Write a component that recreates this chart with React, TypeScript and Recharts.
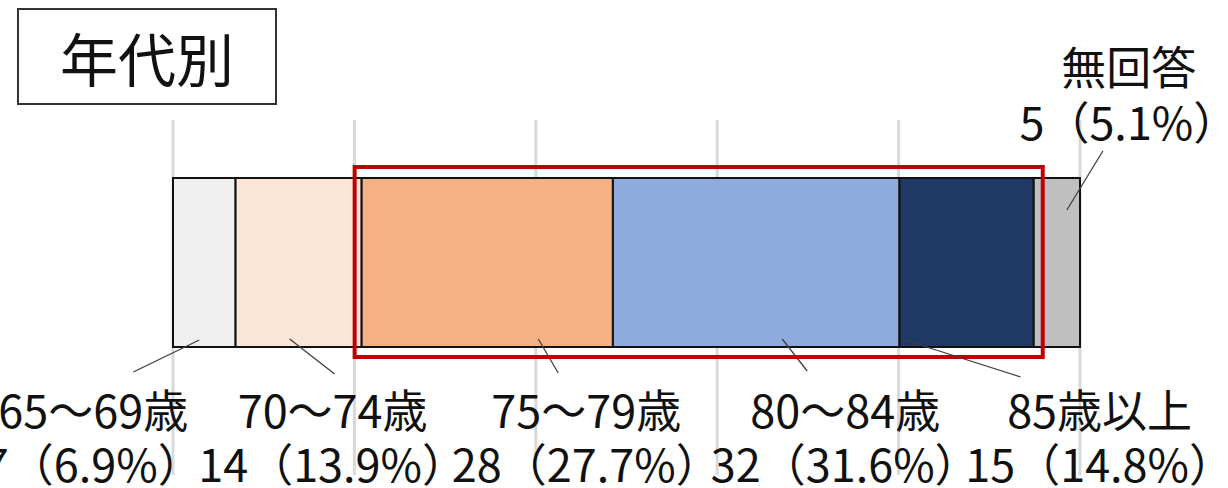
import { BarChart, Bar, XAxis, YAxis, CartesianGrid, LabelList } from 'recharts';

const categories = ['65～69歳', '70～74歳', '75～79歳', '80～84歳', '85歳以上', '無回答'];
const counts = [7, 14, 28, 32, 15, 5];
const percents = [6.9, 13.9, 27.7, 31.6, 14.8, 5.1];
const colors = ['#F0F0F0', '#FBE5D6', '#F4B183', '#8FAADC', '#203864', '#BFBFBF'];
const gridTicks = [0, 20, 40, 60, 80, 100];

const title = '年代別';
// segments 75～79歳 .. 85歳以上 are framed in red
const highlightFrom = 2;
const highlightTo = 4;

// label placement, relative to the segment centre and the bar edge
const labelLayout = [
  { edge: 'bottom', from: [-5, -7], to: [-71, 25], tx: -111, ty: [61, 115] },
  { edge: 'bottom', from: [-9, -8], to: [36, 27], tx: 34, ty: [61, 115] },
  { edge: 'bottom', from: [51, -8], to: [71, 26], tx: 99, ty: [61, 115] },
  { edge: 'bottom', from: [26, -8], to: [51, 24], tx: 89, ty: [61, 115] },
  { edge: 'bottom', from: [-65, -8], to: [54, 30], tx: 133, ty: [61, 115] },
  { edge: 'top', from: [10, 32], to: [46, -27], tx: 72, ty: [-113, -58] },
];

const keys = categories.map((_, i) => `s${i}`);
const row: Record<string, number | string> = { name: title };
keys.forEach((k, i) => (row[k] = percents[i]));
const data = [row];

const cumStart = (i: number) => percents.slice(0, i).reduce((a, b) => a + b, 0);

const FONT = '"Noto Sans CJK JP", "Noto Sans", sans-serif';

function makeLabel(i: number) {
  return (props: any) => {
    const vb = props.viewBox ?? props;
    const x = Number(vb.x);
    const y = Number(vb.y);
    const w = Number(vb.width);
    const h = Number(vb.height);
    if (Number.isNaN(x)) return null;
    const L = labelLayout[i];
    const cx = x + w / 2;
    const ey = L.edge === 'bottom' ? y + h : y;

    let frame = null;
    if (i === highlightTo) {
      // width of one percent, taken from this bar's own geometry
      const unit = w / percents[i];
      const left = x - (cumStart(highlightTo) - cumStart(highlightFrom)) * unit;
      const right = x + w;
      frame = (
        <rect
          x={left - 7}
          y={y - 11}
          width={right - left + 16}
          height={h + 21}
          fill="none"
          stroke="#C00000"
          strokeWidth={4}
        />
      );
    }

    return (
      <g key={`lab-${i}`}>
        {frame}
        <line
          x1={cx + L.from[0]}
          y1={ey + L.from[1]}
          x2={cx + L.to[0]}
          y2={ey + L.to[1]}
          stroke="#404040"
          strokeWidth={1.3}
        />
        <text
          x={cx + L.tx}
          y={ey + L.ty[0]}
          textAnchor="middle"
          dominantBaseline="central"
          fontSize={45}
          fontFamily={FONT}
          fill="#111"
        >
          {categories[i]}
        </text>
        <text
          x={cx + L.tx}
          y={ey + L.ty[1]}
          textAnchor="middle"
          dominantBaseline="central"
          fontSize={45}
          fontFamily={FONT}
          fill="#111"
        >
          {`${counts[i]}（${percents[i].toFixed(1)}%）`}
        </text>
      </g>
    );
  };
}

const gridLine = (p: any) => (
  <line
    key={p.key ?? `g-${p.x1}`}
    x1={p.x1}
    x2={p.x2}
    y1={p.y1 - 58}
    y2={p.y2 + 128}
    stroke="#D9D9D9"
    strokeWidth={3}
  />
);

export default function App() {
  return (
    <div style={{ position: 'fixed', left: 0, top: 0, width: 1228, height: 488, background: '#fff' }}>
      <BarChart
        width={1228}
        height={488}
        data={data}
        layout="vertical"
        margin={{ top: 178, bottom: 141, left: 173, right: 148 }}
        barCategoryGap={0}
      >
        <CartesianGrid horizontal={false} vertical={gridLine} />
        <XAxis type="number" domain={[0, 100]} ticks={gridTicks} hide />
        <YAxis type="category" dataKey="name" hide />
        {keys.map((k, i) => (
          <Bar
            key={k}
            dataKey={k}
            stackId="a"
            fill={colors[i]}
            stroke="#111"
            strokeWidth={2}
            isAnimationActive={false}
          >
            <LabelList dataKey={k} content={makeLabel(i)} />
          </Bar>
        ))}
      </BarChart>
      <div
        style={{
          position: 'absolute',
          left: 17,
          top: 8,
          width: 256,
          height: 93,
          border: '2px solid #333',
          display: 'flex',
          alignItems: 'center',
          justifyContent: 'center',
          fontFamily: FONT,
          fontSize: 58,
          color: '#111',
          background: '#fff',
        }}
      >
        {title}
      </div>
    </div>
  );
}
